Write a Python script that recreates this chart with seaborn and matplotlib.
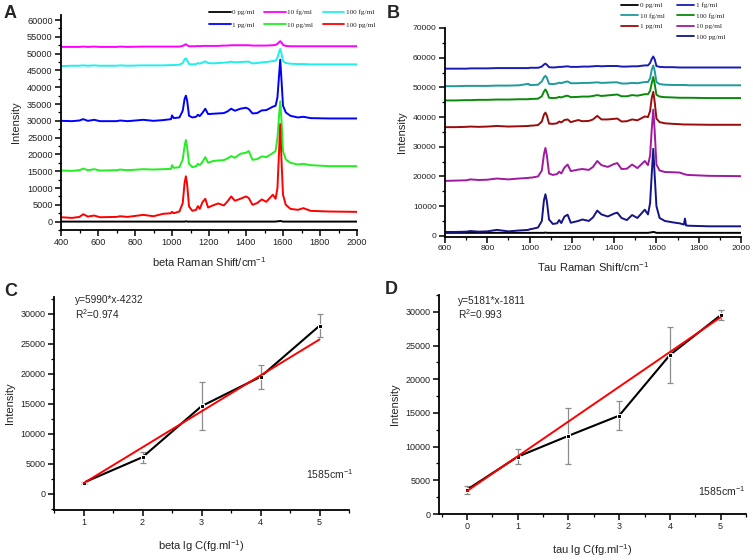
import matplotlib
matplotlib.use("Agg")
import matplotlib.pyplot as plt
import seaborn as sns
from matplotlib.ticker import MultipleLocator
from matplotlib.lines import Line2D

# ---------------- data ----------------
# Panel A (beta) Raman shift grid, intensities in thousands
shift_A = [400, 460, 500, 520, 545, 580, 610, 700, 720, 760, 845, 900, 950, 995, 1000, 1010, 1040, 1058, 1068, 1075,
           1082, 1092, 1110, 1130, 1140, 1150, 1165, 1180, 1195, 1220, 1250, 1280, 1300, 1320, 1340, 1370, 1400, 1415,
           1435, 1460, 1485, 1510, 1545, 1560, 1570, 1578, 1585, 1592, 1600, 1615, 1640, 1680, 1710, 1750, 1850, 2000]
A_0pg = [0.0, 0.0, 0.0, 0.0, 0.0, 0.0, 0.0, 0.0, 0.0, 0.0, 0.0, 0.0, 0.0, 0.0, 0.0, 0.0, 0.0, 0.0, 0.0, 0.1,
         0.0, 0.0, 0.0, 0.0, 0.0, 0.0, 0.0, 0.0, 0.0, 0.0, 0.0, 0.0, 0.0, 0.0, 0.0, 0.0, 0.0, 0.0,
         0.0, 0.0, 0.0, 0.0, 0.0, 0.0, 0.1, 0.1, 0.2, 0.1, 0.0, 0.0, 0.0, 0.0, 0.0, 0.0, 0.0, 0.0]
A_10fg = [52.0, 52.0, 52.0, 52.1, 52.0, 52.1, 52.0, 52.0, 52.1, 52.0, 52.1, 52.1, 52.1, 52.1, 52.1, 52.1, 52.1, 52.3, 52.6, 52.8,
          52.5, 52.2, 52.2, 52.2, 52.3, 52.2, 52.3, 52.3, 52.3, 52.3, 52.3, 52.4, 52.4, 52.5, 52.5, 52.5, 52.5, 52.5,
          52.4, 52.4, 52.4, 52.4, 52.5, 52.6, 52.9, 53.4, 53.7, 53.3, 52.6, 52.3, 52.2, 52.2, 52.2, 52.2, 52.2, 52.2]
A_100fg = [46.3, 46.4, 46.4, 46.5, 46.4, 46.5, 46.4, 46.4, 46.5, 46.4, 46.5, 46.5, 46.5, 46.6, 46.6, 46.6, 46.7, 47.2, 48.3, 48.6,
           48.0, 46.9, 46.8, 46.9, 47.2, 47.0, 47.4, 47.7, 47.2, 47.1, 47.2, 47.3, 47.4, 47.6, 47.4, 47.5, 47.6, 47.6,
           47.1, 47.2, 47.4, 47.5, 47.8, 47.9, 48.8, 50.3, 51.4, 50.0, 47.8, 47.2, 47.0, 46.9, 46.9, 46.8, 46.8, 46.8]
A_1pg = [30.0, 29.9, 30.1, 30.5, 30.0, 30.3, 29.9, 29.9, 30.1, 29.9, 30.3, 30.0, 30.2, 30.5, 31.6, 30.8, 31.0, 33.0, 36.5, 37.5,
         36.0, 31.5, 31.0, 31.2, 31.8, 31.4, 32.4, 33.6, 32.0, 32.1, 32.2, 32.3, 32.8, 33.6, 33.0, 33.6, 33.9, 33.5,
         32.2, 32.3, 33.1, 33.2, 34.2, 34.5, 37.0, 43.0, 48.2, 42.0, 34.5, 32.5, 31.5, 31.0, 31.2, 30.8, 30.7, 30.7]
A_10pg = [15.2, 15.1, 15.3, 15.8, 15.3, 15.6, 15.2, 15.3, 15.5, 15.3, 15.6, 15.5, 15.6, 15.7, 16.8, 16.0, 16.2, 18.5, 22.5, 24.3,
          22.0, 17.2, 16.2, 16.5, 17.2, 16.8, 17.8, 19.2, 17.5, 18.0, 18.2, 18.3, 18.8, 19.5, 19.0, 20.2, 20.5, 21.0,
          18.4, 18.6, 19.4, 19.2, 20.4, 21.0, 25.0, 31.0, 35.8, 30.0, 21.0, 18.5, 17.5, 17.0, 17.2, 16.8, 16.5, 16.5]
A_100pg = [1.3, 1.1, 1.4, 2.2, 1.5, 1.8, 1.3, 1.4, 1.6, 1.4, 2.0, 1.6, 2.3, 2.5, 2.9, 2.5, 3.0, 5.5, 11.5, 13.5,
           11.0, 4.5, 3.2, 3.5, 4.6, 3.8, 5.8, 6.8, 4.2, 4.8, 5.4, 4.8, 6.0, 7.5, 6.2, 6.8, 7.5, 7.0,
           5.0, 5.5, 6.6, 5.9, 8.0, 6.8, 10.0, 20.0, 29.0, 18.0, 8.0, 5.0, 3.8, 3.5, 4.0, 3.2, 3.0, 2.9]

# Panel B (tau)
shift_B = [600, 650, 700, 720, 760, 800, 845, 900, 950, 995, 1000, 1010, 1040, 1058, 1068, 1075, 1082, 1092, 1110, 1130,
           1140, 1150, 1165, 1180, 1195, 1230, 1250, 1280, 1300, 1320, 1340, 1370, 1400, 1415, 1435, 1460, 1485, 1510,
           1545, 1560, 1570, 1578, 1585, 1592, 1600, 1615, 1640, 1680, 1710, 1730, 1735, 1740, 1750, 1850, 2000]
B_0pg = [1.0, 1.0, 1.0, 1.0, 1.0, 1.0, 1.0, 1.0, 1.0, 1.0, 1.0, 1.0, 1.0, 1.0, 1.0, 1.1, 1.0, 1.0, 1.0, 1.0,
         1.0, 1.0, 1.0, 1.0, 1.0, 1.0, 1.0, 1.0, 1.0, 1.0, 1.0, 1.0, 1.0, 1.0, 1.0, 1.0, 1.0, 1.0,
         1.0, 1.0, 1.1, 1.2, 1.3, 1.2, 1.0, 1.0, 1.0, 1.0, 1.0, 1.0, 1.0, 1.0, 1.0, 1.0, 1.0]
B_1fg = [56.3, 56.3, 56.3, 56.4, 56.4, 56.4, 56.5, 56.5, 56.5, 56.5, 56.6, 56.6, 56.6, 57.0, 57.7, 58.0, 57.6, 56.8, 56.7, 56.8,
         56.9, 56.9, 57.0, 57.1, 56.9, 56.9, 57.0, 57.0, 57.1, 57.2, 57.1, 57.2, 57.2, 57.2, 57.0, 57.0, 57.1, 57.1,
         57.4, 57.4, 58.2, 59.6, 60.4, 59.4, 57.2, 56.9, 56.8, 56.8, 56.7, 56.7, 56.7, 56.7, 56.7, 56.7, 56.7]
B_10fg = [50.4, 50.4, 50.5, 50.5, 50.5, 50.5, 50.6, 50.6, 50.7, 51.2, 50.8, 50.8, 50.9, 52.0, 53.4, 53.9, 53.2, 51.2, 51.1, 51.3,
          51.6, 51.4, 51.8, 52.0, 51.4, 51.4, 51.5, 51.5, 51.6, 51.7, 51.5, 51.6, 51.7, 51.7, 51.3, 51.3, 51.5, 51.4,
          51.8, 51.8, 53.0, 56.0, 57.4, 55.5, 51.8, 51.1, 50.9, 50.8, 50.8, 50.8, 50.8, 50.8, 50.7, 50.7, 50.7]
B_100fg = [45.6, 45.6, 45.7, 45.7, 45.8, 45.8, 45.9, 45.9, 46.0, 46.0, 46.1, 46.1, 46.2, 47.0, 48.6, 49.3, 48.5, 46.5, 46.4, 46.5,
           46.8, 46.6, 47.0, 47.2, 46.7, 46.8, 46.9, 46.9, 47.1, 47.4, 47.1, 47.3, 47.5, 47.6, 47.0, 47.0, 47.4, 47.2,
           47.7, 47.7, 48.8, 51.5, 53.5, 51.0, 47.5, 46.9, 46.7, 46.6, 46.5, 46.5, 46.5, 46.5, 46.5, 46.4, 46.4]
B_1pg = [36.6, 36.6, 36.7, 36.8, 36.7, 36.8, 37.0, 36.8, 36.9, 37.0, 37.1, 37.1, 37.3, 38.5, 40.8, 41.5, 40.5, 37.8, 37.7, 37.9,
         38.5, 38.2, 39.0, 39.2, 38.3, 39.0, 38.6, 38.7, 39.2, 40.4, 39.2, 39.2, 39.4, 39.5, 38.5, 38.6, 39.2, 38.9,
         40.2, 40.0, 42.0, 46.5, 48.5, 45.0, 39.5, 38.3, 37.9, 37.7, 37.6, 37.5, 37.5, 37.5, 37.5, 37.4, 37.4]
B_10pg = [18.5, 18.6, 18.7, 19.0, 18.8, 18.9, 19.3, 19.0, 19.3, 19.5, 19.6, 19.6, 20.0, 22.0, 27.5, 29.6, 27.0, 21.0, 20.5, 20.8,
          21.6, 21.0, 23.0, 24.0, 21.8, 22.3, 22.5, 22.2, 23.2, 25.2, 23.8, 23.2, 24.2, 24.5, 22.5, 22.6, 24.0, 22.8,
          25.2, 23.8, 27.0, 36.0, 42.5, 35.0, 24.0, 22.0, 21.5, 21.4, 21.3, 20.8, 20.7, 20.6, 20.5, 20.2, 20.1]
B_100pg = [1.3, 1.3, 1.4, 1.6, 1.4, 1.5, 2.0, 1.5, 1.8, 2.0, 2.2, 2.3, 2.8, 5.0, 12.0, 14.0, 11.5, 5.5, 4.0, 4.2,
           5.3, 4.3, 6.5, 7.1, 4.4, 5.0, 5.5, 5.0, 6.2, 8.5, 7.2, 6.5, 7.5, 7.8, 6.0, 5.3, 7.0, 6.0,
           8.8, 7.2, 11.0, 21.0, 29.3, 20.0, 10.0, 6.0, 5.0, 4.5, 4.2, 3.8, 5.8, 3.5, 3.4, 3.2, 3.2]

# Panel C (beta calibration)
lgC_beta = [1, 2, 3, 4, 5]
I_beta = [1850, 6100, 14600, 19500, 28000]
err_beta = [200, 900, 4000, 2000, 1900]
fit_x_beta = [1, 5]
fit_y_beta = [1758, 25718]

# Panel D (tau calibration)
lgC_tau = [0, 1, 2, 3, 4, 5]
I_tau = [3600, 8500, 11600, 14600, 23600, 29500]
err_tau = [600, 1100, 4200, 2200, 4200, 700]
fit_x_tau = [0, 5]
fit_y_tau = [3400, 29200]

# ---------------- style ----------------
sns.set_theme(style="ticks")
plt.rcParams['font.family'] = ['Liberation Sans', 'DejaVu Sans']
plt.rcParams['mathtext.fontset'] = 'custom'
plt.rcParams['mathtext.rm'] = 'Liberation Sans'
plt.rcParams['mathtext.it'] = 'Liberation Sans'

fig = plt.figure(figsize=(7.53, 5.6), dpi=100)
W, H = 753.0, 560.0

def axes_px(l, t, r, b):
    return fig.add_axes([l / W, 1 - b / H, (r - l) / W, (b - t) / H])

def style(ax, ls=6.5):
    for s in ['top', 'right']:
        ax.spines[s].set_visible(False)
    for s in ['left', 'bottom']:
        ax.spines[s].set_linewidth(1.3)
        ax.spines[s].set_color('black')
    ax.tick_params(which='major', direction='out', length=4, width=1.1, labelsize=ls,
                   color='black', pad=2, labelcolor='#222222')
    ax.tick_params(which='minor', direction='out', length=2.2, width=0.9, color='black')
    ax.grid(False)
    ax.set_facecolor('white')

lab_fs = 8
spec_lw = 1.4

# ---- Panel A ----
axA = axes_px(61, 15, 357, 230)
specA = [("0 pg/ml", A_0pg, "black"), ("10 fg/ml", A_10fg, "#ff00ff"), ("100 fg/ml", A_100fg, "#22eeee"),
         ("1 pg/ml", A_1pg, "#0000ff"), ("10 pg/ml", A_10pg, "#22ee22"), ("100 pg/ml", A_100pg, "#ff0000")]
handlesA = {}
for name, vals, col in specA:
    sns.lineplot(x=shift_A, y=[v * 1000 for v in vals], color=col, lw=spec_lw, ax=axA, sort=False,
                 estimator=None, legend=False)
    handlesA[name] = Line2D([], [], color=col, lw=1.3)
axA.set_xlim(400, 2000)
axA.set_ylim(-2500, 61500)
axA.xaxis.set_major_locator(MultipleLocator(200))
axA.xaxis.set_minor_locator(MultipleLocator(100))
axA.yaxis.set_major_locator(MultipleLocator(5000))
axA.yaxis.set_minor_locator(MultipleLocator(2500))
style(axA, 6.6)
axA.set_xlabel("beta Raman Shift/cm$^{-1}$", fontsize=lab_fs, labelpad=6)
axA.set_ylabel("Intensity", fontsize=lab_fs, labelpad=4)
orderA = ["0 pg/ml", "1 pg/ml", "10 fg/ml", "10 pg/ml", "100 fg/ml", "100 pg/ml"]
legA = fig.legend([handlesA[n] for n in orderA], orderA, ncol=3, loc='upper left',
                  bbox_to_anchor=(209 / W, 1 - 9 / H), frameon=False,
                  prop={'family': 'Liberation Serif', 'size': 5.2}, handlelength=3.0,
                  handletextpad=0.2, columnspacing=1.3, labelspacing=0.95, borderpad=0, borderaxespad=0)

# ---- Panel B ----
axB = axes_px(445, 28, 741, 237)
specB = [("0 pg/ml", B_0pg, "black"), ("1 fg/ml", B_1fg, "#1a1ab8"), ("10 fg/ml", B_10fg, "#1f9a9a"),
         ("100 fg/ml", B_100fg, "#0a8a0a"), ("1 pg/ml", B_1pg, "#9a0c0c"), ("10 pg/ml", B_10pg, "#a01aa0"),
         ("100 pg/ml", B_100pg, "#141488")]
handlesB = {}
for name, vals, col in specB:
    sns.lineplot(x=shift_B, y=[v * 1000 for v in vals], color=col, lw=spec_lw, ax=axB, sort=False,
                 estimator=None, legend=False)
    handlesB[name] = Line2D([], [], color=col, lw=1.3)
axB.set_xlim(600, 2000)
axB.set_ylim(-400, 70000)
axB.xaxis.set_major_locator(MultipleLocator(200))
axB.xaxis.set_minor_locator(MultipleLocator(100))
axB.yaxis.set_major_locator(MultipleLocator(10000))
axB.yaxis.set_minor_locator(MultipleLocator(5000))
style(axB, 6.1)
axB.set_xlabel("Tau Raman Shift/cm$^{-1}$", fontsize=lab_fs, labelpad=6)
axB.set_ylabel("Intensity", fontsize=lab_fs, labelpad=4)
col1 = ["0 pg/ml", "10 fg/ml", "1 pg/ml"]
col2 = ["1 fg/ml", "100 fg/ml", "10 pg/ml", "100 pg/ml"]
legprops = dict(loc='upper left', frameon=False, prop={'family': 'Liberation Serif', 'size': 5.2},
                handlelength=2.4, handletextpad=0.2, labelspacing=0.63, borderpad=0, borderaxespad=0)
legB1 = fig.legend([handlesB[n] for n in col1], col1, bbox_to_anchor=(621 / W, 1 - 2 / H), **legprops)
legB2 = fig.legend([handlesB[n] for n in col2], col2, bbox_to_anchor=(677 / W, 1 - 2 / H), **legprops)

# ---- Panel C ----
axC = axes_px(54, 297, 349, 510)
axC.errorbar(lgC_beta, I_beta, yerr=err_beta, fmt='none', ecolor='#8c8c8c', elinewidth=0.9,
             capsize=2.5, capthick=0.9, zorder=2)
sns.lineplot(x=lgC_beta, y=I_beta, color='black', lw=1.5, marker='s', markersize=2.5, ax=axC,
             sort=False, estimator=None, legend=False, zorder=3)
sns.lineplot(x=fit_x_beta, y=fit_y_beta, color='#ff0000', lw=1.4, ax=axC, sort=False,
             estimator=None, legend=False, zorder=4)
axC.set_xlim(0.5, 5.5)
axC.set_ylim(-2700, 32800)
axC.xaxis.set_major_locator(MultipleLocator(1))
axC.xaxis.set_minor_locator(MultipleLocator(0.5))
axC.yaxis.set_major_locator(MultipleLocator(5000))
axC.yaxis.set_minor_locator(MultipleLocator(2500))
style(axC)
axC.set_xlabel("beta lg C(fg.ml$^{-1}$)", fontsize=lab_fs, labelpad=8)
axC.set_ylabel("Intensity", fontsize=lab_fs, labelpad=4)
axC.text(0.071, 0.985, "y=5990*x-4232", transform=axC.transAxes, fontsize=7.3, va='center', ha='left')
axC.text(0.071, 0.92, "R$^2$=0.974", transform=axC.transAxes, fontsize=7.3, va='center', ha='left')
axC.text(0.855, 0.17, "1585cm$^{-1}$", transform=axC.transAxes, fontsize=7.5, va='center', ha='left')

# ---- Panel D ----
axD = axes_px(439, 295, 746, 514)
axD.errorbar(lgC_tau, I_tau, yerr=err_tau, fmt='none', ecolor='#8c8c8c', elinewidth=0.9,
             capsize=2.5, capthick=0.9, zorder=2)
sns.lineplot(x=lgC_tau, y=I_tau, color='black', lw=1.5, marker='s', markersize=2.5, ax=axD,
             sort=False, estimator=None, legend=False, zorder=3)
sns.lineplot(x=fit_x_tau, y=fit_y_tau, color='#ff0000', lw=1.4, ax=axD, sort=False,
             estimator=None, legend=False, zorder=4)
axD.set_xlim(-0.55, 5.5)
axD.set_ylim(0, 32500)
axD.xaxis.set_major_locator(MultipleLocator(1))
axD.xaxis.set_minor_locator(MultipleLocator(0.5))
axD.yaxis.set_major_locator(MultipleLocator(5000))
axD.yaxis.set_minor_locator(MultipleLocator(2500))
style(axD)
axD.set_xlabel("tau lg C(fg.ml$^{-1}$)", fontsize=lab_fs, labelpad=8)
axD.set_ylabel("Intensity", fontsize=lab_fs, labelpad=4)
axD.text(0.062, 0.973, "y=5181*x-1811", transform=axD.transAxes, fontsize=7.3, va='center', ha='left')
axD.text(0.062, 0.913, "R$^2$=0.993", transform=axD.transAxes, fontsize=7.3, va='center', ha='left')
axD.text(0.843, 0.105, "1585cm$^{-1}$", transform=axD.transAxes, fontsize=7.5, va='center', ha='left')

# ---- panel letters ----
for txt, x, y in [("A", 4, 13), ("B", 387, 13), ("C", 4, 292), ("D", 385, 290)]:
    fig.text(x / W, 1 - y / H, txt, fontsize=13, fontweight='bold', va='center', ha='left')

fig.savefig("out.png", dpi=100, facecolor='white')
